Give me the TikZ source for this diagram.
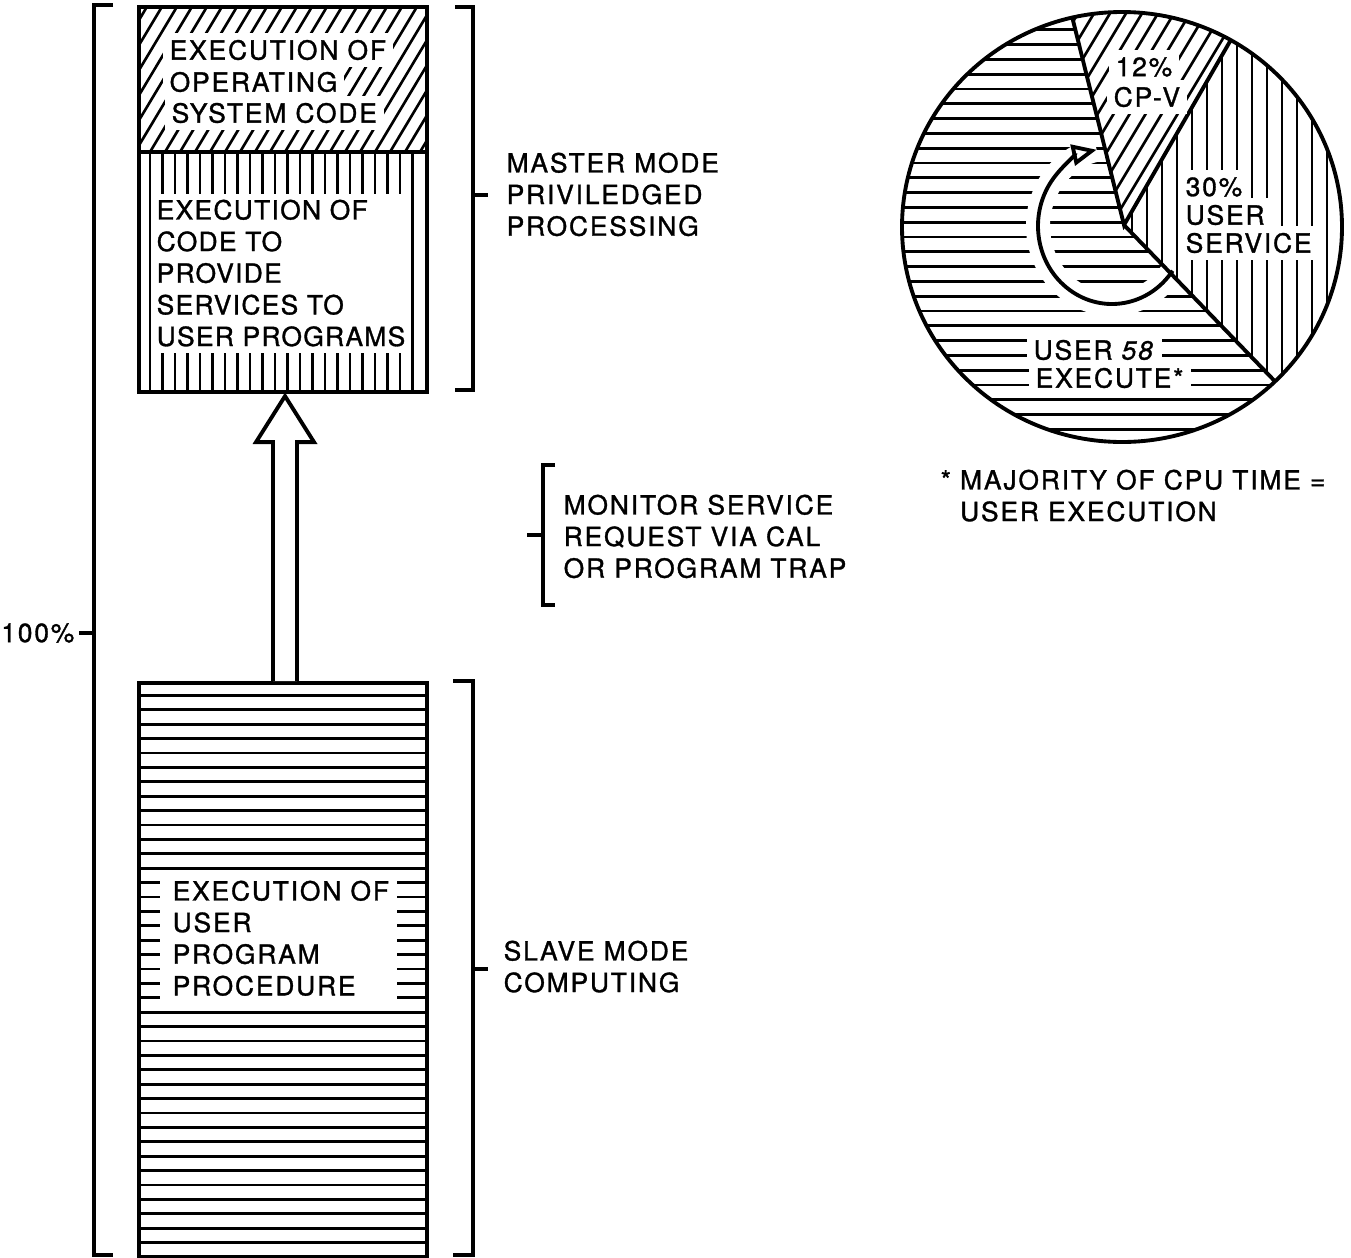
\documentclass[tikz,border=0pt]{standalone}
\usepackage{fontspec}
\setmainfont{TeX Gyre Heros}[LetterSpace=7, FakeBold=1.2]
\usepackage{tikz}
\usetikzlibrary{arrows.meta, positioning, calc}

\newcommand{\figfont}{\fontsize{7.5}{9}\selectfont}

\begin{document}
\begin{tikzpicture}[x=0.01cm, y=-0.01cm,
  frame/.style={line width=1.1pt},
  hatch/.style={line width=0.75pt},
  bracket/.style={line width=1pt},
  lbl/.style={font=\figfont, align=left, inner sep=0pt, anchor=north west},
  cut/.style={font=\figfont, fill=white, inner sep=2pt, anchor=west}]

\useasboundingbox (0,0) rectangle (1351,1257);

% Boxes
\node (master) [draw, frame, anchor=north west, inner sep=0pt,
  minimum width=2.88cm, minimum height=3.85cm] at (137,5) {};
\node (slave) [draw, frame, anchor=north west, inner sep=0pt,
  minimum width=2.88cm, minimum height=5.74cm] at (137,681) {};

% Operating system code (diagonal hatch)
\begin{scope}
  \clip (137,5) rectangle (425,152);
  \foreach \x in {45,60,...,440}
    \draw[hatch] (\x,152) -- ++(88,-147);
\end{scope}
\draw[frame] (137,152) -- (425,152);
\node (os1) [cut] at (162,50) {EXECUTION OF};
\node (os2) [cut] at (162,82) {OPERATING};
\node (os3) [cut] at (164,113) {SYSTEM CODE};

% User services (vertical hatch)
\foreach \x in {150,162.5,...,413}
  \draw[hatch] (\x,152) -- (\x,390);
\fill[white] (153,194) rectangle (410,353);
\node (svc) [lbl, font=\figfont\addfontfeature{LetterSpace=5}] at (156,199)
  {EXECUTION OF\\CODE TO\\PROVIDE\\SERVICES TO\\USER PROGRAMS};

% User program (horizontal hatch)
\foreach \y in {695.4,709.8,...,1250}
  \draw[hatch] (137,\y) -- (425,\y);
\fill[white] (160,873) rectangle (397,1003);
\node (usr) [lbl] at (172,880) {EXECUTION OF\\USER\\PROGRAM\\PROCEDURE};

% Service request arrow
\draw[frame, fill=white] ($(slave.north)+(-10,0)$) -- ($(master.south)+(-10,48)$)
  -- ($(master.south)+(-27,48)$) -- ($(master.south)+(2,2)$)
  -- ($(master.south)+(31,48)$) -- ($(master.south)+(14,48)$)
  -- ($(slave.north)+(14,0)$);

% Brackets and labels
\draw[bracket] (113,5) -- (94,5) -- (94,1255) -- (113,1255);
\draw[bracket] (94,633) -- (79,633);
\node (pct) [font=\figfont, anchor=east, inner sep=0pt] at (75,633) {100\%};

\draw[bracket] (455,7) -- (473,7) -- (473,390) -- (455,390);
\draw[bracket] (473,195) -- (488,195);
\node (mst) [lbl] at (506,152) {MASTER MODE\\PRIVILEDGED\\PROCESSING};

\draw[bracket] (555,465) -- (543,465) -- (543,605) -- (555,605);
\draw[bracket] (543,535) -- (527,535);
\node (mon) [lbl] at (563,494) {MONITOR SERVICE\\REQUEST VIA CAL\\OR PROGRAM TRAP};

\draw[bracket] (453,681) -- (473,681) -- (473,1255) -- (453,1255);
\draw[bracket] (473,969) -- (488,969);
\node (slv) [lbl] at (503,940) {SLAVE MODE\\COMPUTING};

% Pie chart of CPU time
\coordinate (pc) at (1124,225);
\begin{scope}
  \clip (1122,227) circle[x radius=220, y radius=215];
  % CP-V
  \begin{scope}
    \clip (pc) -- ++(-104:400) arc[start angle=-104, end angle=-60, radius=400] -- cycle;
    \foreach \x in {900,916,...,1300}
      \draw[hatch] (\x,230) -- ++(138,-230);
  \end{scope}
  % user service
  \begin{scope}
    \clip (pc) -- ++(-60:400) arc[start angle=-60, end angle=46, radius=400] -- cycle;
    \foreach \x in {1132,1147,...,1345}
      \draw[hatch] (\x,0) -- (\x,450);
  \end{scope}
  % user execute
  \begin{scope}
    \clip (pc) -- ++(46:400) arc[start angle=46, end angle=256, radius=400] -- cycle;
    \foreach \y in {15,29.8,...,445}
      \draw[hatch] (890,\y) -- (1350,\y);
    \draw[white, line width=0.24cm] (1112,226) ++(35:74 and 78)
      arc[start angle=35, end angle=258, x radius=74, y radius=78];
  \end{scope}
\end{scope}
\path (pc) ++(-104:300) coordinate (pa) (pc) ++(-60:300) coordinate (pb) (pc) ++(46:300) coordinate (pd);
\begin{scope}
  \clip (1122,227) circle[x radius=220, y radius=215];
  \draw[frame] (pa) -- (pc) -- (pb) (pc) -- (pd);
\end{scope}
\draw[frame] (1122,227) circle[x radius=220, y radius=215];
\draw[frame, -{Triangle[open, length=7pt, width=6pt]}] (1112,226) ++(35:74 and 78)
  arc[start angle=35, end angle=258, x radius=74, y radius=78];

\node (cpv1) [cut] at (1108,67) {12\%};
\node (cpv2) [cut] at (1106,97) {CP-V};
\node (svc1) [cut] at (1178,187) {30\%};
\node (svc2) [cut] at (1178,215) {USER};
\node (svc3) [cut] at (1178,243) {SERVICE};
\node (exe1) [cut, inner ysep=1pt] at (1026,350) {USER \textit{58}};
\node (exe2) [cut, inner ysep=1pt] at (1028,378) {EXECUTE*};

\node (note) [lbl] at (940,469) {* MAJORITY OF CPU TIME =\\\phantom{* }USER EXECUTION};

\end{tikzpicture}
\end{document}
